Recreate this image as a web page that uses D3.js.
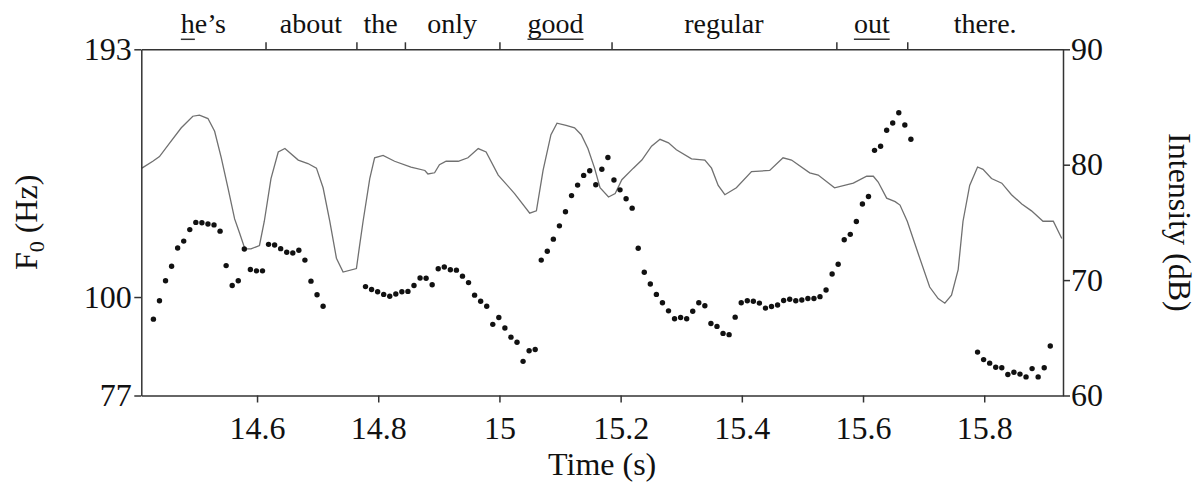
<!DOCTYPE html>
<html>
<head>
<meta charset="utf-8">
<script src="https://cdn.jsdelivr.net/npm/d3@7"></script>
<style>
  body { margin: 0; background: #fff; }
</style>
</head>
<body>
<script>
// word tier
var words = ['he\u2019s', 'about', 'the', 'only', 'good', 'regular', 'out', 'there.'];
var wordBounds = [14.614, 14.764, 14.844, 15.0, 15.185, 15.556, 15.673];
var stressChars = [1, 0, 0, 0, 4, 0, 3, 0]; // underlined chars from word start

// F0 points (s, Hz)
var f0Times = [
  14.429, 14.439, 14.449, 14.459, 14.469, 14.479, 14.489, 14.499, 14.509, 14.519,
  14.529, 14.539, 14.549, 14.559, 14.569, 14.579, 14.589, 14.599, 14.609, 14.619,
  14.629, 14.639, 14.649, 14.659, 14.669, 14.679, 14.689, 14.699, 14.709,
  14.779, 14.789, 14.799, 14.809, 14.819, 14.829, 14.839, 14.849, 14.859, 14.869,
  14.879, 14.889, 14.899, 14.909, 14.919, 14.929, 14.939, 14.949, 14.959, 14.969,
  14.979, 14.989, 14.999, 15.009, 15.019, 15.029, 15.039, 15.049, 15.059, 15.069,
  15.079, 15.089, 15.099, 15.109, 15.119, 15.129, 15.139, 15.149, 15.159, 15.169,
  15.179, 15.189, 15.199, 15.209, 15.219, 15.229, 15.239, 15.249, 15.259, 15.269,
  15.279, 15.289, 15.299, 15.309, 15.319, 15.329, 15.339, 15.349, 15.359, 15.369,
  15.379, 15.389, 15.399, 15.409, 15.419, 15.429, 15.439, 15.449, 15.459, 15.469,
  15.479, 15.489, 15.499, 15.509, 15.519, 15.529, 15.539, 15.549, 15.559, 15.569,
  15.579, 15.589, 15.599, 15.609, 15.619, 15.629, 15.639, 15.649, 15.659, 15.669,
  15.679,
  15.789, 15.799, 15.809, 15.819, 15.829, 15.839, 15.849, 15.859, 15.869, 15.879,
  15.889, 15.899, 15.909
];
var f0Values = [
  94.3, 99.0, 104.4, 108.5, 113.9, 116.0, 119.6, 121.9, 121.8, 121.4,
  121.1, 119.1, 108.7, 103.1, 104.4, 113.6, 107.6, 107.2, 107.2, 115.0,
  114.8, 113.7, 112.6, 112.4, 113.2, 110.3, 104.3, 100.6, 97.6,
  102.8, 102.0, 101.4, 100.7, 100.2, 100.8, 101.4, 101.5, 103.1, 105.2,
  105.1, 103.3, 107.8, 108.3, 107.5, 107.4, 105.7, 103.9, 100.5, 98.9,
  97.6, 93.0, 94.7, 92.1, 89.9, 88.7, 84.3, 86.7, 87.0, 110.3,
  112.9, 116.6, 120.8, 125.4, 130.9, 134.6, 138.1, 139.8, 134.7, 140.4,
  144.8, 136.4, 132.9, 129.8, 126.6, 113.8, 106.8, 103.5, 100.7, 98.5,
  96.4, 94.4, 94.7, 94.4, 96.3, 98.5, 97.7, 93.2, 92.5, 90.8,
  90.5, 94.8, 98.5, 99.0, 98.9, 98.4, 97.1, 97.5, 97.9, 99.1,
  99.4, 99.0, 99.2, 99.6, 99.6, 100.1, 101.9, 106.3, 109.1, 116.4,
  118.1, 122.2, 128.0, 130.6, 147.6, 149.2, 155.7, 158.7, 163.1, 157.9,
  152.0,
  86.4, 84.7, 83.9, 83.0, 82.9, 81.4, 81.9, 81.5, 80.9, 82.7,
  80.9, 82.9, 87.8
];

// intensity contour (s, dB)
var intTimes = [
  14.410, 14.428, 14.439, 14.456, 14.475, 14.494, 14.505, 14.519, 14.530, 14.541,
  14.552, 14.563, 14.571, 14.580, 14.590, 14.604, 14.612, 14.623, 14.635, 14.646,
  14.668, 14.684, 14.698, 14.709, 14.720, 14.731, 14.742, 14.764, 14.769, 14.775,
  14.786, 14.794, 14.808, 14.827, 14.854, 14.877, 14.882, 14.893, 14.901, 14.912,
  14.932, 14.948, 14.965, 14.978, 14.998, 15.025, 15.050, 15.061, 15.072, 15.085,
  15.095, 15.110, 15.124, 15.135, 15.146, 15.157, 15.166, 15.180, 15.191, 15.202,
  15.221, 15.235, 15.251, 15.265, 15.279, 15.292, 15.317, 15.339, 15.350, 15.361,
  15.372, 15.391, 15.416, 15.446, 15.468, 15.482, 15.512, 15.526, 15.553, 15.584,
  15.606, 15.617, 15.625, 15.639, 15.653, 15.661, 15.673, 15.691, 15.710, 15.724,
  15.735, 15.746, 15.757, 15.765, 15.776, 15.789, 15.798, 15.812, 15.829, 15.845,
  15.862, 15.878, 15.897, 15.914, 15.928
];
var intValues = [
  79.7, 80.3, 80.7, 81.9, 83.2, 84.2, 84.3, 84.0, 82.9, 80.6,
  78.0, 75.3, 74.1, 72.7, 72.7, 73.0, 75.1, 78.8, 81.1, 81.4,
  80.4, 80.1, 79.7, 78.0, 75.1, 71.9, 70.7, 71.0, 72.9, 75.1,
  78.8, 80.6, 80.8, 80.3, 79.8, 79.5, 79.2, 79.3, 80.0, 80.3,
  80.3, 80.6, 81.4, 81.1, 79.1, 77.5, 75.8, 76.0, 79.5, 82.6,
  83.6, 83.4, 83.2, 82.6, 81.4, 79.7, 78.0, 77.2, 77.5, 78.7,
  79.7, 80.4, 81.6, 82.2, 81.9, 81.3, 80.5, 80.4, 79.7, 78.2,
  77.4, 78.0, 79.4, 79.5, 80.6, 80.4, 79.3, 79.1, 78.0, 78.4,
  79.0, 79.0, 78.5, 77.1, 76.8, 76.5, 75.1, 72.3, 69.4, 68.4,
  68.0, 68.7, 70.9, 75.1, 78.2, 79.8, 79.6, 78.8, 78.4, 77.4,
  76.6, 76.0, 75.1, 75.1, 73.6
];

var timeTicks = [14.6, 14.8, 15, 15.2, 15.4, 15.6, 15.8];
var f0Ticks = [77, 100, 193];
var dbTicks = [60, 70, 80, 90];

var w = 1202;
var h = 484;
var m = { left: 141.3, right: 1063, top: 49.3, bottom: 395.5 };
var serif = '"Liberation Serif", "Times New Roman", serif';
var ink = '#333';

var svg = d3.select('body')
  .append('svg')
  .attr('width', w)
  .attr('height', h);

var xScale = d3.scaleLinear()
  .domain([14.409, 15.93])
  .range([m.left, m.right]);

var yF0 = d3.scaleLog()
  .domain([77, 193])
  .range([m.bottom, m.top]);

var yDb = d3.scaleLinear()
  .domain([60, 90])
  .range([m.bottom, m.top]);

function styleAxis(g) {
  g.attr('font-family', serif).attr('font-size', 32);
  g.select('.domain').attr('stroke', ink).attr('stroke-width', 1.5);
  g.selectAll('.tick line').attr('stroke', ink).attr('stroke-width', 1.5);
  g.selectAll('.tick text').attr('fill', '#111');
}

// intensity curve
var line = d3.line()
  .x(function (d, i) { return xScale(intTimes[i]); })
  .y(function (d) { return yDb(d); });

svg.append('path')
  .datum(intValues)
  .attr('d', line)
  .attr('fill', 'none')
  .attr('stroke', '#707070')
  .attr('stroke-width', 1.3);

// F0 dots
svg.selectAll('circle')
  .data(f0Values)
  .enter()
  .append('circle')
  .attr('cx', function (d, i) { return xScale(f0Times[i]); })
  .attr('cy', function (d) { return yF0(d); })
  .attr('r', 2.7)
  .attr('fill', '#111');

// axes
svg.append('g')
  .attr('transform', 'translate(0,' + m.bottom + ')')
  .call(d3.axisBottom(xScale).tickValues(timeTicks).tickFormat(function (d) { return d; })
    .tickSize(7).tickPadding(13.8).tickSizeOuter(0))
  .call(styleAxis);

svg.append('g')
  .attr('transform', 'translate(' + m.left + ',0)')
  .call(d3.axisLeft(yF0).tickValues(f0Ticks).tickFormat(function (d) { return d; })
    .tickSize(7).tickPadding(2.5).tickSizeOuter(0))
  .call(styleAxis);

svg.append('g')
  .attr('transform', 'translate(' + m.right + ',0)')
  .call(d3.axisRight(yDb).tickValues(dbTicks).tickFormat(function (d) { return d; })
    .tickSize(7).tickPadding(1).tickSizeOuter(0))
  .call(styleAxis);

svg.append('g')
  .attr('transform', 'translate(0,' + m.top + ')')
  .call(d3.axisTop(xScale).tickValues(wordBounds).tickFormat('')
    .tickSize(7).tickSizeOuter(0))
  .call(styleAxis);

// words
var edges = [xScale.domain()[0]].concat(wordBounds, [xScale.domain()[1]]);
var wordG = svg.append('g')
  .attr('font-family', serif)
  .attr('font-size', 28)
  .attr('fill', '#111');

words.forEach(function (wd, i) {
  var cx = xScale((edges[i] + edges[i + 1]) / 2);
  var t = wordG.append('text')
    .attr('x', cx)
    .attr('y', 33)
    .attr('text-anchor', 'middle')
    .text(wd);
  if (stressChars[i] > 0) {
    var node = t.node();
    var full = node.getComputedTextLength();
    var part = node.getSubStringLength(0, stressChars[i]);
    var x0 = cx - full / 2;
    wordG.append('line')
      .attr('x1', x0).attr('x2', x0 + part)
      .attr('y1', 39.3).attr('y2', 39.3)
      .attr('stroke', ink)
      .attr('stroke-width', 1.5);
  }
});

// axis titles
svg.append('text')
  .attr('x', (m.left + m.right) / 2)
  .attr('y', 475)
  .attr('text-anchor', 'middle')
  .attr('font-family', serif)
  .attr('font-size', 32)
  .attr('fill', '#111')
  .text('Time (s)');

var f0Label = svg.append('text')
  .attr('transform', 'translate(37,' + ((m.top + m.bottom) / 2) + ') rotate(-90)')
  .attr('text-anchor', 'middle')
  .attr('font-family', serif)
  .attr('font-size', 32)
  .attr('fill', '#111');
f0Label.append('tspan').text('F');
f0Label.append('tspan').attr('dy', 7).attr('font-size', 22).text('0');
f0Label.append('tspan').attr('dy', -7).text(' (Hz)');

svg.append('text')
  .attr('transform', 'translate(1169,' + ((m.top + m.bottom) / 2) + ') rotate(90)')
  .attr('text-anchor', 'middle')
  .attr('font-family', serif)
  .attr('font-size', 32)
  .attr('fill', '#111')
  .text('Intensity (dB)');
</script>
</body>
</html>
